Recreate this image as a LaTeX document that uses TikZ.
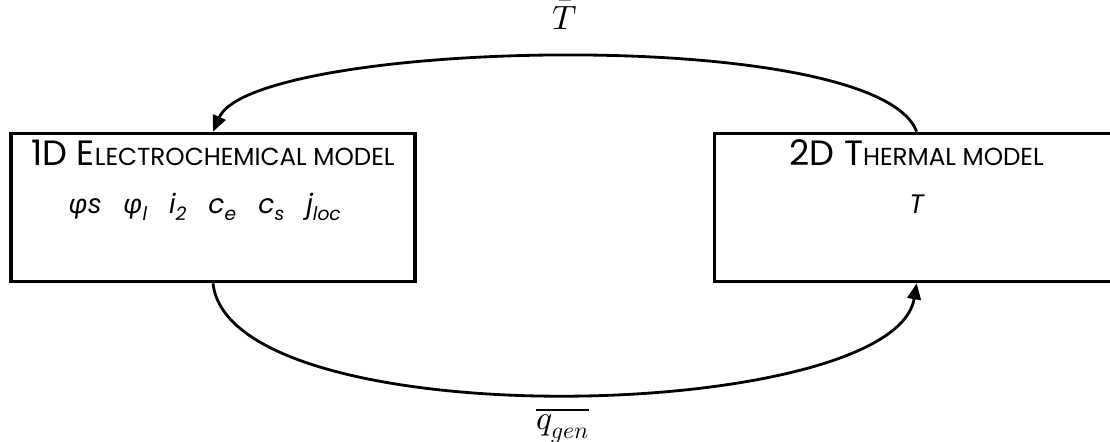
\documentclass[tikz,border=0pt]{standalone}
\usepackage{amsmath}
\usepackage{fontspec}
\usepackage{unicode-math}
\setmainfont{Poppins}
\setmathfont{Latin Modern Math}
\newfontfamily\greekfont{Fira Sans}
\usepackage{tikz}
\usetikzlibrary{arrows.meta, positioning}

\newcommand{\smallcapstext}[1]{{\fontsize{17.5}{21}\selectfont\MakeUppercase{#1}}}
\newcommand{\bigcapstext}[1]{{\fontsize{25}{29}\selectfont #1}}
\newcommand{\gphi}{{\greekfont\itshape φ}}

\begin{document}
\begin{tikzpicture}[
        node distance=7.4cm,
        model/.style={rectangle, draw, line width=2.6pt, minimum width=10.1cm, minimum height=3.7cm},
        title/.style={inner sep=0pt, anchor=base},
        vars/.style={inner sep=0pt, anchor=base, font=\fontsize{19}{22}\selectfont\itshape},
        arrow/.style={-{Triangle[length=0.4cm, width=0.34cm]}, line width=2pt},
        coupling/.style={inner sep=0pt, font=\fontsize{24}{26}\selectfont}
    ]
    \useasboundingbox (0,0) rectangle (27.75,11.025);

    % Nodes
    \node[model] (electro) at (5.325,5.8375) {};
    \node[model, right=of electro] (thermal) {};

    \node[title] (electrotitle) at ([yshift=-0.85cm]electro.north) {\bigcapstext{1D E}\smallcapstext{lectrochemical model}};
    \node[title] (thermaltitle) at ([yshift=-0.85cm]thermal.north) {\bigcapstext{2D T}\smallcapstext{hermal model}};

    \node[vars] (electrovars) at ([xshift=-0.2cm, yshift=-2.05cm]electro.north) {\gphi s\enspace\ \gphi\textsubscript{\itshape l}\enspace\ i\textsubscript{2}\enspace\ c\textsubscript{e}\enspace\ c\textsubscript{s}\enspace\ j\textsubscript{loc}};
    \node[vars] (thermalvars) at ([yshift=-2.05cm]thermal.north) {T};

    % Arrows
    \draw[arrow] (thermal.north) .. controls +(-1.0,2.7) and +(1.0,2.3) .. (electro.north)
        node[coupling, pos=0.5, yshift=1.05cm] (tbar) {$\bar{T}$};
    \draw[arrow] (electro.south) .. controls +(0.425,-3.9) and +(-0.575,-3.5) .. (thermal.south)
        node[coupling, pos=0.5, yshift=-0.78cm] (qgen) {$\overline{q_{gen}}$};

\end{tikzpicture}
\end{document}
